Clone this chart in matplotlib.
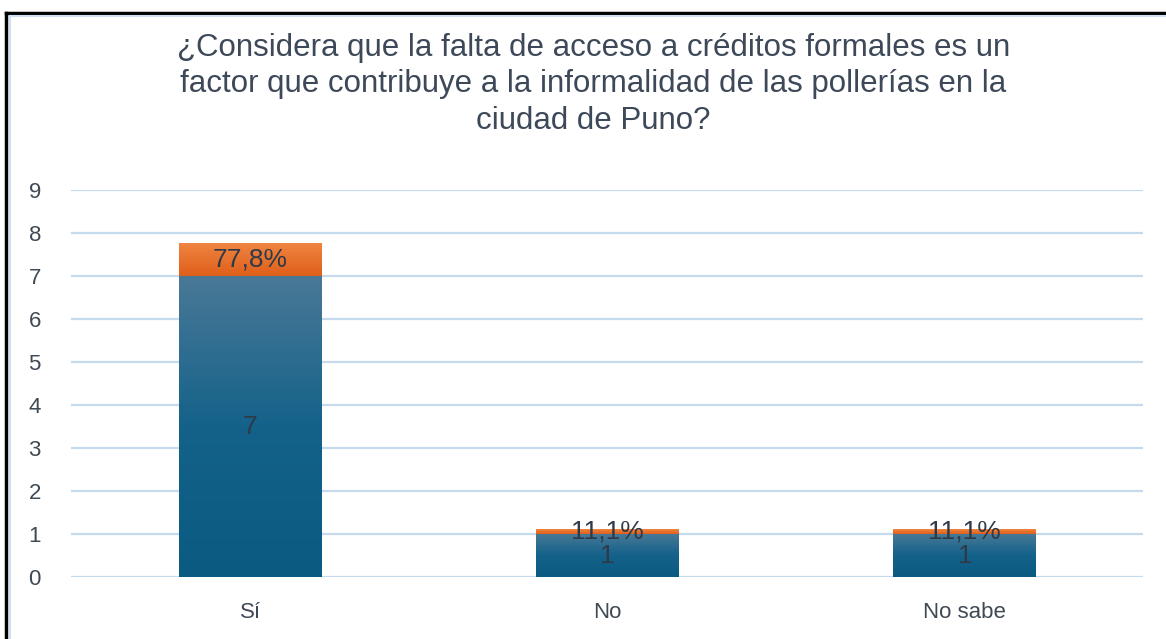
import matplotlib
matplotlib.use("Agg")
import matplotlib.pyplot as plt
import numpy as np
from matplotlib.colors import LinearSegmentedColormap
from matplotlib.lines import Line2D

# datos de la encuesta
categorias = ["Sí", "No", "No sabe"]
frecuencias = [7, 1, 1]
porcentajes = [0.778, 0.111, 0.111]
etiquetas_pct = ["77,8%", "11,1%", "11,1%"]

plt.rcParams['font.family'] = ['Liberation Sans', 'DejaVu Sans']

fig = plt.figure(figsize=(11.66, 6.39), dpi=100)
ax = fig.add_axes([0.0613, 0.097, 0.9194, 0.6057])

azul = LinearSegmentedColormap.from_list("azul", ["#0b5a82", "#14628a", "#4a7997"])
naranja = LinearSegmentedColormap.from_list("naranja", ["#df5f1a", "#f08543"])
grad = np.linspace(0, 1, 256).reshape(-1, 1)

x = np.arange(len(categorias))
ancho = 0.4

b1 = ax.bar(x, frecuencias, ancho, color="none", zorder=3)
b2 = ax.bar(x, porcentajes, ancho, bottom=frecuencias, color="none", zorder=3)

# relleno degradado en cada barra
for barras, cmap in [(b1, azul), (b2, naranja)]:
    for r in barras:
        x0, y0 = r.get_x(), r.get_y()
        w, h = r.get_width(), r.get_height()
        im = ax.imshow(grad, cmap=cmap, aspect="auto", origin="lower",
                       extent=[x0, x0 + w, y0, y0 + h], zorder=2)
        im.set_clip_path(r)

col_txt = "#2e3a48"
for i in range(len(categorias)):
    ax.text(x[i], frecuencias[i] / 2, str(frecuencias[i]), ha="center", va="center",
            fontsize=19, color=col_txt, zorder=4)
    ax.text(x[i], frecuencias[i] + porcentajes[i] / 2, etiquetas_pct[i], ha="center",
            va="center", fontsize=19, color=col_txt, zorder=4)

ax.set_xlim(-0.5, 2.5)
ax.set_ylim(0, 9)
ax.set_yticks(range(0, 10))
ax.set_xticks(x)
ax.set_xticklabels(categorias)
ax.grid(axis="y", color="#c6daee", linewidth=1.6, zorder=0)
ax.set_axisbelow(True)
for s in ax.spines.values():
    s.set_visible(False)
ax.tick_params(length=0, labelsize=16, colors="#3f4954")
ax.tick_params(axis="y", pad=22)
ax.tick_params(axis="x", pad=18)

fig.text(0.509, 0.948,
         "¿Considera que la falta de acceso a créditos formales es un\n"
         "factor que contribuye a la informalidad de las pollerías en la\n"
         "ciudad de Puno?",
         ha="center", va="top", fontsize=22.5, color="#3d4858", linespacing=1.27)

# marco del gráfico
fig.add_artist(Line2D([0.0055, 1.0], [0.9795, 0.9795], color="black", linewidth=2.5))
fig.add_artist(Line2D([0.0055, 0.0055], [0.0, 0.9795], color="black", linewidth=2.5))
fig.add_artist(Line2D([0.0085, 1.0], [0.975, 0.975], color="#cfe0f2", linewidth=1.5))
fig.add_artist(Line2D([0.0085, 0.0085], [0.0, 0.975], color="#cfe0f2", linewidth=1.5))

fig.savefig("out.png", dpi=100)
